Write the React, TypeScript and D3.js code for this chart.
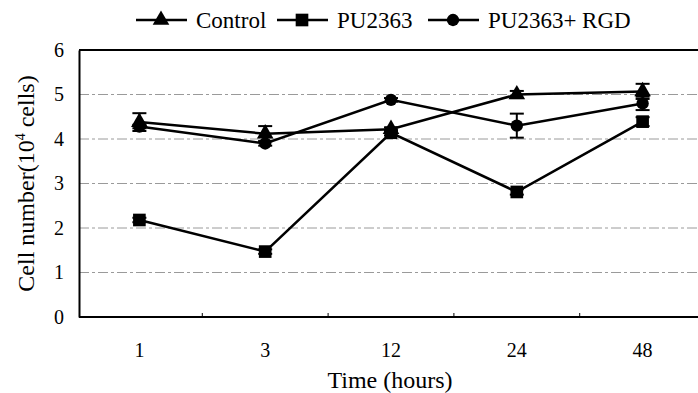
import { useRef, useEffect } from 'react';
import * as d3 from 'd3';

const timeLabels = ['1', '3', '12', '24', '48'];
const yTicks = [0, 1, 2, 3, 4, 5, 6];

const controlValues = [4.38, 4.12, 4.22, 5.0, 5.07];
const controlErrors = [0.2, 0.17, 0.04, 0.08, 0.17];
const puValues = [2.18, 1.47, 4.14, 2.81, 4.39];
const puErrors = [0.05, 0.05, 0.06, 0.06, 0.1];
const rgdValues = [4.28, 3.9, 4.88, 4.3, 4.8];
const rgdErrors = [0.04, 0.05, 0.04, 0.27, 0.15];

const seriesNames = ['Control', 'PU2363', 'PU2363+ RGD'];

const font = 'Liberation Serif, Times New Roman, DejaVu Serif, serif';

export default function App() {
  const svgRef = useRef<SVGSVGElement>(null);

  useEffect(() => {
    document.body.style.margin = '0';
    if (!svgRef.current) return;
    const svg = d3.select(svgRef.current);
    svg.selectAll('*').remove();

    const width = 698;
    const height = 393;
    const margin = { top: 50, right: -5, bottom: 76, left: 79 };
    const innerW = width - margin.left - margin.right;
    const innerH = height - margin.top - margin.bottom;

    svg.attr('width', width).attr('height', height).attr('viewBox', `0 0 ${width} ${height}`);

    const x = d3.scalePoint<string>().domain(timeLabels).range([0, innerW]).padding(0.48);
    const y = d3.scaleLinear().domain([0, 6]).range([innerH, 0]);

    const g = svg.append('g').attr('transform', `translate(${margin.left},${margin.top})`);

    // Grid
    g.append('g')
      .selectAll('line')
      .data(yTicks.filter((d) => d > 0 && d < 6))
      .join('line')
      .attr('x1', 0).attr('x2', innerW)
      .attr('y1', (d) => y(d)).attr('y2', (d) => y(d))
      .attr('stroke', '#9a9a9a').attr('stroke-width', 1)
      .attr('stroke-dasharray', '10 3 3 3');

    // Top border
    g.append('line')
      .attr('x1', 0).attr('x2', innerW)
      .attr('y1', y(6)).attr('y2', y(6))
      .attr('stroke', '#000').attr('stroke-width', 2);

    // Y axis
    g.append('g')
      .call(d3.axisLeft(y).tickValues(yTicks).tickSize(0).tickPadding(15).tickFormat(d3.format('d')))
      .call((a) => {
        a.attr('font-family', null).attr('font-size', null);
        a.select('.domain').attr('stroke', '#000').attr('stroke-width', 2);
        a.selectAll('text').attr('fill', '#000').style('font-size', '20px');
      });

    // X axis
    const step = x.step();
    g.append('line')
      .attr('x1', 0).attr('x2', innerW)
      .attr('y1', innerH).attr('y2', innerH)
      .attr('stroke', '#000').attr('stroke-width', 2);
    g.append('g')
      .selectAll('line')
      .data(timeLabels.slice(1))
      .join('line')
      .attr('x1', (d) => (x(d) as number) - step / 2)
      .attr('x2', (d) => (x(d) as number) - step / 2)
      .attr('y1', innerH).attr('y2', innerH - 4)
      .attr('stroke', '#000');
    g.append('g')
      .selectAll('text')
      .data(timeLabels)
      .join('text')
      .attr('x', (d) => x(d) as number)
      .attr('y', innerH + 40)
      .attr('text-anchor', 'middle')
      .style('font-size', '20px')
      .text((d) => d);

    // Series
    const series = [
      { values: controlValues, errors: controlErrors, shape: d3.symbolTriangle, size: 120 },
      { values: puValues, errors: puErrors, shape: d3.symbolSquare, size: 160 },
      { values: rgdValues, errors: rgdErrors, shape: d3.symbolCircle, size: 120 },
    ];

    const line = d3.line<number>()
      .x((_, i) => x(timeLabels[i]) as number)
      .y((d) => y(d));

    series.forEach((s) => {
      g.append('path')
        .datum(s.values)
        .attr('d', line)
        .attr('fill', 'none')
        .attr('stroke', '#000')
        .attr('stroke-width', 2.5);
    });

    series.forEach((s) => {
      const eg = g.append('g');
      s.values.forEach((v, i) => {
        const cx = x(timeLabels[i]) as number;
        const e = s.errors[i];
        eg.append('line')
          .attr('x1', cx).attr('x2', cx)
          .attr('y1', y(v - e)).attr('y2', y(v + e))
          .attr('stroke', '#000').attr('stroke-width', 2);
        [v - e, v + e].forEach((ev) => {
          eg.append('line')
            .attr('x1', cx - 7).attr('x2', cx + 7)
            .attr('y1', y(ev)).attr('y2', y(ev))
            .attr('stroke', '#000').attr('stroke-width', 2);
        });
      });
      g.append('g')
        .selectAll('path')
        .data(s.values)
        .join('path')
        .attr('transform', (d, i) => `translate(${x(timeLabels[i])},${y(d)})`)
        .attr('d', d3.symbol().type(s.shape).size(s.size)())
        .attr('fill', '#000');
    });

    // Legend
    const legendX = [136, 277, 428];
    const legend = svg.append('g');
    seriesNames.forEach((name, i) => {
      const lx = legendX[i];
      const ly = 20;
      legend.append('line')
        .attr('x1', lx).attr('x2', lx + 51)
        .attr('y1', ly).attr('y2', ly)
        .attr('stroke', '#000').attr('stroke-width', 2.5);
      legend.append('path')
        .attr('transform', `translate(${lx + 25},${ly})`)
        .attr('d', d3.symbol().type(series[i].shape).size(series[i].size)())
        .attr('fill', '#000');
      legend.append('text')
        .attr('x', lx + 60).attr('y', ly + 8)
        .style('font-size', '23px')
        .text(name);
    });

    // Axis titles
    svg.append('text')
      .attr('x', 390).attr('y', 388)
      .attr('text-anchor', 'middle')
      .style('font-size', '24px')
      .text('Time (hours)');

    const yt = svg.append('text')
      .attr('transform', `translate(34, ${margin.top + innerH / 2}) rotate(-90)`)
      .attr('text-anchor', 'middle')
      .style('font-size', '24px');
    yt.append('tspan').text('Cell number(10');
    yt.append('tspan').attr('dy', -9).style('font-size', '14px').text('4');
    yt.append('tspan').attr('dy', 9).text(' cells)');
  }, []);

  return <svg ref={svgRef} style={{ display: 'block', fontFamily: font }} />;
}
